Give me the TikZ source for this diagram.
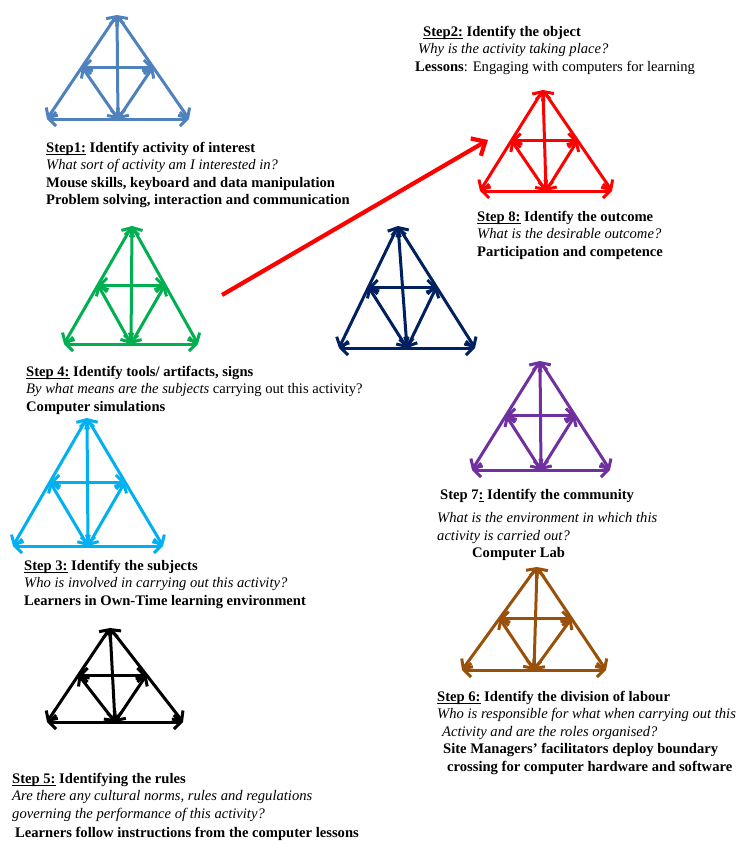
\documentclass[tikz,border=0pt]{standalone}
\usepackage{fontspec}
\setmainfont{Liberation Serif}
\usepackage{tikz}
\usetikzlibrary{arrows.meta, calc}
\definecolor{sysblue}{RGB}{79,129,189}
\definecolor{sysred}{RGB}{255,0,0}
\definecolor{sysgreen}{RGB}{0,176,80}
\definecolor{sysnavy}{RGB}{0,32,96}
\definecolor{syspurple}{RGB}{112,48,160}
\definecolor{syssky}{RGB}{0,176,240}
\definecolor{sysblack}{RGB}{0,0,0}
\definecolor{sysbrown}{RGB}{153,80,10}
\tikzset{
  link/.style={{Straight Barb[length=7pt,width=14pt]}-{Straight Barb[length=7pt,width=14pt]},
    line width=3pt},
  bigarrow/.style={-{Straight Barb[length=11pt,width=20pt]}, line width=4.2pt, color=sysred},
  steptxt/.style={anchor=north west, align=left, inner sep=0pt,
    font=\fontsize{14.6}{17.5}\selectfont\bfseries}
}
% activity system: name, colour, top x, top y, left x, right x, bottom y
\newcommand{\actsys}[7]{%
  \coordinate (#1-t) at (#3,#4);
  \coordinate (#1-bl) at (#5,#7);
  \coordinate (#1-br) at (#6,#7);
  \coordinate (#1-ml) at ($(#1-t)!0.5!(#1-bl)$);
  \coordinate (#1-mr) at ($(#1-t)!0.5!(#1-br)$);
  \coordinate (#1-bm) at ($(#1-bl)!0.5!(#1-br)$);
  \draw[link, draw=#2] (#1-t) -- (#1-bl);
  \draw[link, draw=#2] (#1-t) -- (#1-br);
  \draw[link, draw=#2] (#1-t) -- (#1-bm);
  \draw[link, draw=#2] (#1-ml) -- (#1-mr);
  \draw[link, draw=#2] (#1-ml) -- (#1-bm);
  \draw[link, draw=#2] (#1-mr) -- (#1-bm);
  \draw[link, draw=#2] (#1-bl) -- (#1-br);
}
\newcommand{\itl}{\normalfont\itshape}
\newcommand{\stepul}[1]{\underline{\smash{#1}}}

\begin{document}
\begin{tikzpicture}[x=1pt, y=-1pt]
  \useasboundingbox (0,0) rectangle (744,841);

  % Triangles
  \actsys{subj}{sysblue}{117}{15}{47}{189}{119}
  \actsys{obj}{sysred}{543}{90}{480}{612}{191}
  \actsys{tool}{sysgreen}{132}{226}{64}{198}{344}
  \actsys{outc}{sysnavy}{398}{226}{339}{475}{348}
  \actsys{comm}{syspurple}{540}{361}{472}{610}{470}
  \actsys{who}{syssky}{87}{418}{13}{163}{546}
  \actsys{rules}{sysblack}{110}{628}{47}{183}{722}
  \actsys{lab}{sysbrown}{537}{567}{462}{606}{670}

  % Steps
  \node[steptxt] (s1) at (46,142) {\stepul{Step1:} Identify activity of interest\\
    \itl What sort of activity am I interested in?\\
    Mouse skills, keyboard and data manipulation\\
    Problem solving, interaction and communication};
  \node[steptxt] (s2) at (415,26) {\hspace*{8pt}\stepul{Step2:} Identify the object\\
    \hspace*{3pt}\itl Why is the activity taking place?\\
    Lessons{\normalfont: Engaging with computers for learning}};
  \node[steptxt] (s8) at (477,211) {\stepul{Step 8:} Identify the outcome\\
    \itl What is the desirable outcome?\\
    Participation and competence};
  \node[steptxt] (s4) at (26,366) {\stepul{Step 4:} Identify tools/ artifacts, signs\\
    \itl By what means are the subjects {\upshape carrying out this activity?}\\
    Computer simulations};
  \node[steptxt] (s7) at (437,489) {\hspace*{3pt}Step 7\stepul{:} Identify the community\\[6pt]
    \itl What is the environment in which this\\
    \itl activity is carried out?\\
    \hspace*{35pt}Computer Lab};
  \node[steptxt] (s3) at (24,560) {\stepul{Step 3:} Identify the subjects\\
    \itl Who is involved in carrying out this activity?\\
    Learners in Own-Time learning environment};
  \node[steptxt] (s6) at (437,691) {\stepul{Step 6:} Identify the division of labour\\
    \itl Who is responsible for what when carrying out this\\
    \hspace*{5pt}\itl Activity and are the roles organised?\\
    \hspace*{6pt}Site Managers' facilitators deploy boundary\\
    \hspace*{10pt}crossing for computer hardware and software};
  \node[steptxt] (s5) at (12,773) {\stepul{Step 5:} Identifying the rules\\
    \itl Are there any cultural norms, rules and regulations\\
    \itl governing the performance of this activity?\\[2pt]
    \hspace*{3pt}Learners follow instructions from the computer lessons};

  % Tools to object
  \coordinate (toolsend) at (222,295);
  \coordinate (objend) at (488,140);
  \draw[bigarrow] (toolsend) -- (objend);
\end{tikzpicture}
\end{document}
